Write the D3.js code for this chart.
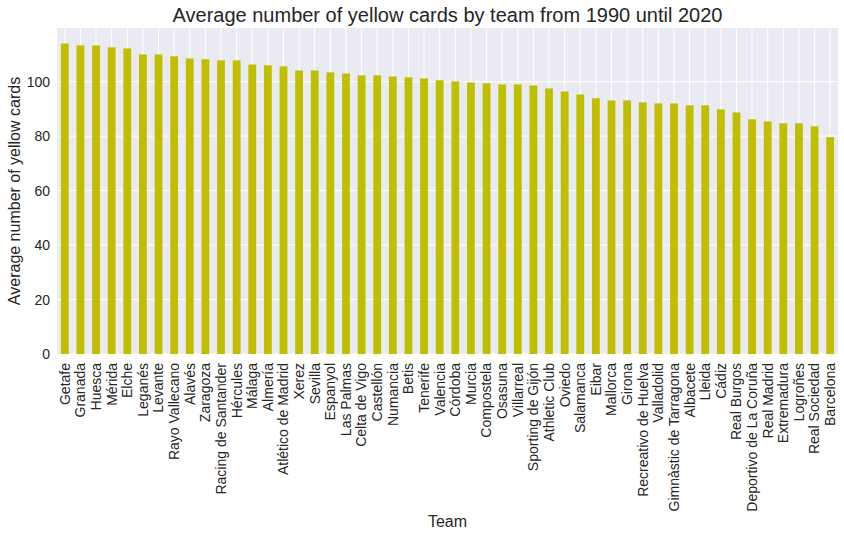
<!DOCTYPE html>
<html><head><meta charset="utf-8">
<script src="https://cdn.jsdelivr.net/npm/d3@7"></script>
<style>body{margin:0;background:#fff;} text{font-family:Arial,"Liberation Sans",sans-serif;fill:#262626;}</style>
</head><body>
<svg id="c" width="844" height="537"></svg>
<script>
const teams = ["Getafe","Granada","Huesca","Mérida","Elche","Leganés","Levante","Rayo Vallecano","Alavés","Zaragoza","Racing de Santander","Hércules","Málaga","Almería","Atlético de Madrid","Xerez","Sevilla","Espanyol","Las Palmas","Celta de Vigo","Castellón","Numancia","Betis","Tenerife","Valencia","Córdoba","Murcia","Compostela","Osasuna","Villarreal","Sporting de Gijón","Athletic Club","Oviedo","Salamanca","Eibar","Mallorca","Girona","Recreativo de Huelva","Valladolid","Gimnàstic de Tarragona","Albacete","Lleida","Cádiz","Real Burgos","Deportivo de La Coruña","Real Madrid","Extremadura","Logroñes","Real Sociedad","Barcelona"];
const yellowCards = [114.0,113.3,113.3,112.6,112.2,110.0,110.0,109.3,108.5,108.2,107.8,107.8,106.3,106.0,105.6,104.1,104.1,103.4,103.0,102.3,102.3,101.9,101.6,101.2,100.5,100.1,99.7,99.4,99.0,99.0,98.6,97.5,96.4,95.3,93.9,93.1,93.1,92.4,92.0,92.0,91.3,91.3,89.8,88.7,86.2,85.4,84.7,84.7,83.6,79.6];
const yTicks = [0,20,40,60,80,100];

const svg = d3.select("#c");
const m = {left:57, right:838, top:28, bottom:354};
const x = d3.scaleBand().domain(teams).range([m.left, m.right]).paddingInner(0.5).paddingOuter(0.25);
const y = d3.scaleLinear().domain([0, d3.max(yellowCards)*1.05]).range([m.bottom, m.top]);

svg.append("rect").attr("x",m.left).attr("y",m.top).attr("width",m.right-m.left).attr("height",m.bottom-m.top).attr("fill","#EAEAF2");

// grid
svg.append("g").selectAll("line").data(yTicks).join("line")
  .attr("x1",m.left).attr("x2",m.right).attr("y1",d=>y(d)).attr("y2",d=>y(d))
  .attr("stroke","#fff").attr("stroke-width",1);
svg.append("g").selectAll("line").data(teams).join("line")
  .attr("x1",d=>x(d)+x.bandwidth()/2).attr("x2",d=>x(d)+x.bandwidth()/2).attr("y1",m.top).attr("y2",m.bottom)
  .attr("stroke","#fff").attr("stroke-width",1);

// bars
svg.append("g").selectAll("rect").data(teams).join("rect")
  .attr("x",d=>x(d)).attr("width",x.bandwidth())
  .attr("y",(d,i)=>y(yellowCards[i])).attr("height",(d,i)=>y(0)-y(yellowCards[i]))
  .attr("fill","#BFBF00");

// y axis
const ya = svg.append("g").attr("transform",`translate(${m.left},0)`)
  .call(d3.axisLeft(y).tickValues(yTicks).tickSize(0).tickPadding(7));
ya.select(".domain").remove();
ya.selectAll("text").attr("font-size",14).attr("fill","#262626").attr("font-family","Arial, 'Liberation Sans', sans-serif");

// x axis
const xa = svg.append("g").attr("transform",`translate(0,${m.bottom})`)
  .call(d3.axisBottom(x).tickSize(0).tickPadding(0));
xa.select(".domain").remove();
xa.selectAll("text").attr("font-size",14).attr("fill","#262626").attr("font-family","Arial, 'Liberation Sans', sans-serif")
  .attr("transform","rotate(-90)").attr("text-anchor","end").attr("dy","0.35em").attr("x",-9).attr("y",0);

// labels
svg.append("text").attr("x",(m.left+m.right)/2).attr("y",22).attr("text-anchor","middle").attr("font-size",20)
  .text("Average number of yellow cards by team from 1990 until 2020");
svg.append("text").attr("x",(m.left+m.right)/2).attr("y",527).attr("text-anchor","middle").attr("font-size",16).text("Team");
svg.append("text").attr("transform",`translate(20,${(m.top+m.bottom)/2}) rotate(-90)`).attr("text-anchor","middle").attr("font-size",16)
  .text("Average number of yellow cards");
</script>
</body></html>
